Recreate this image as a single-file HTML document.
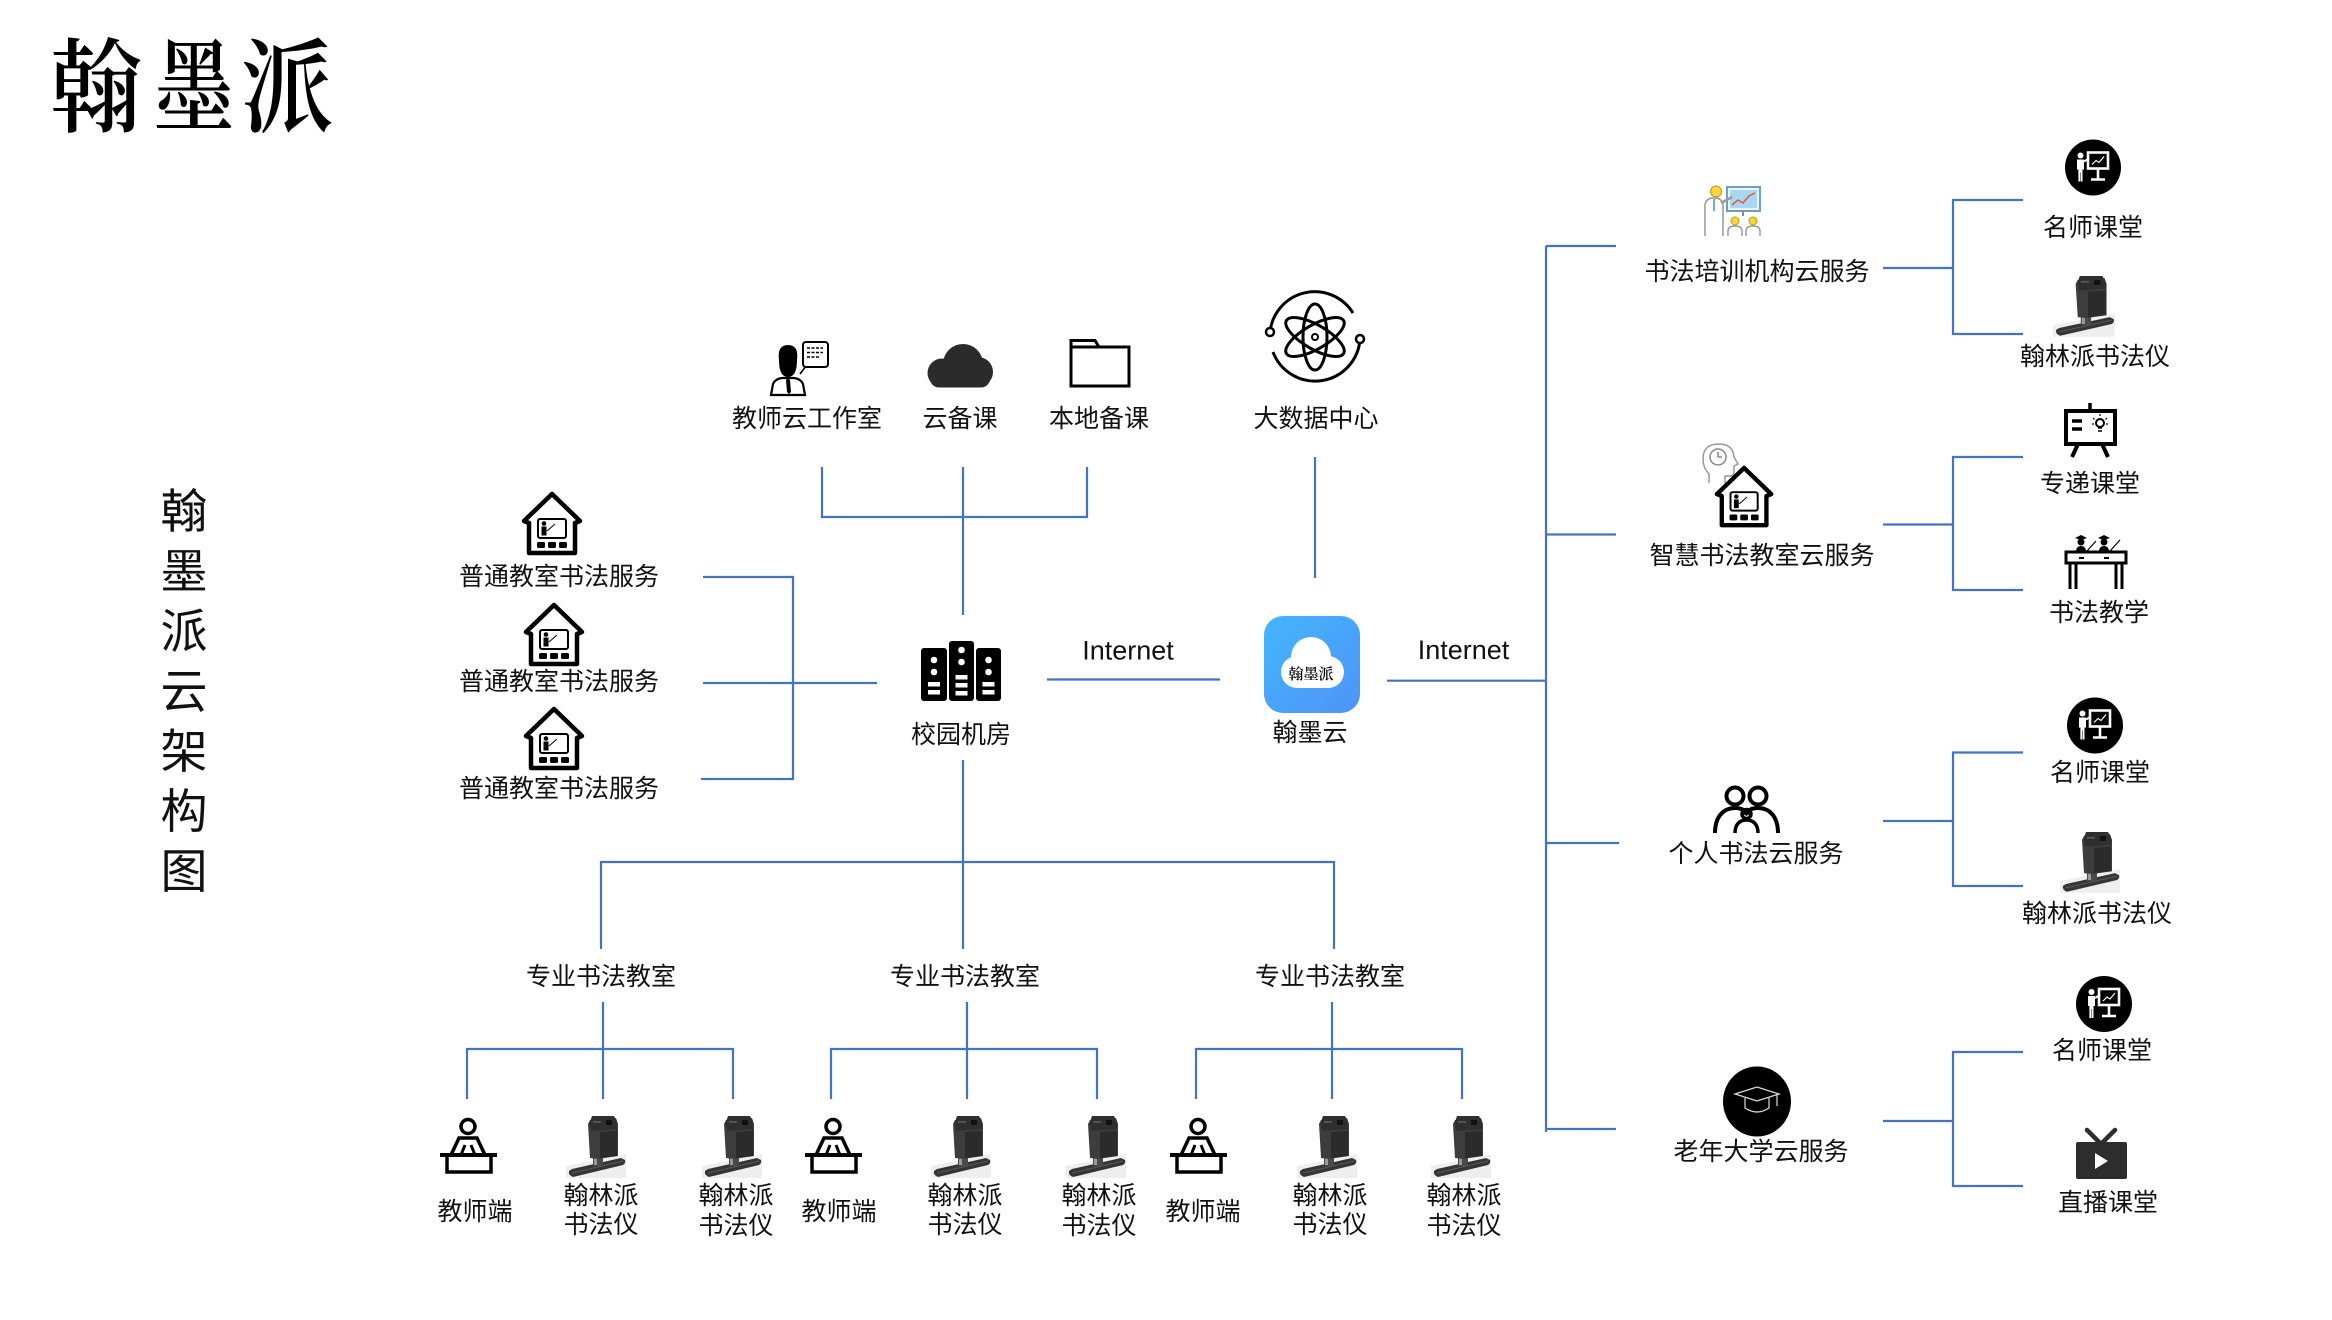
<!DOCTYPE html>
<html><head><meta charset="utf-8">
<style>
html,body{margin:0;padding:0;background:#fff;}
svg{display:block;}
text{font-family:"Liberation Sans","Noto Sans CJK SC",sans-serif;fill:#111;}
.lbl{font-size:25px;text-anchor:middle;}
.ln{fill:none;stroke:#4472C4;stroke-width:2.2;}
.cal{font-family:"Noto Serif CJK SC","Noto Sans CJK SC",serif;font-size:100px;font-weight:600;fill:#000;}
</style></head><body>
<svg width="2332" height="1320" viewBox="0 0 2332 1320" xmlns="http://www.w3.org/2000/svg">
<defs>
  <linearGradient id="appg" x1="0" y1="0" x2="1" y2="1">
    <stop offset="0" stop-color="#43b6fc"/>
    <stop offset="1" stop-color="#4f93f7"/>
  </linearGradient>
  <g id="house">
    <path d="M7,61 L7,31 L2,29 L30,2 L58,29 L53,31 L53,61 Z" fill="#fff" stroke="#000" stroke-width="4.5" stroke-linejoin="round"/>
    <rect x="16" y="27" width="28" height="19" rx="2" fill="none" stroke="#000" stroke-width="2"/>
    <circle cx="22" cy="31.5" r="2.3" fill="#000"/>
    <path d="M19.5,34.5 h5 v9 h-5z" fill="#000"/>
    <path d="M25,39 L33,32" stroke="#000" stroke-width="1"/>
    <rect x="15" y="50" width="8" height="6" rx="1.5" fill="#000"/>
    <rect x="26" y="50" width="8" height="6" rx="1.5" fill="#000"/>
    <rect x="37" y="50" width="8" height="6" rx="1.5" fill="#000"/>
  </g>
  <g id="tdesk" fill="none" stroke="#000" stroke-width="3.5">
    <circle cx="28" cy="8.5" r="7"/>
    <path d="M11,37 L19,20 H37 L45,37"/>
    <path d="M21,37 L25,27 M35,37 L31,27" stroke-width="3"/>
    <path d="M0,37 H57" stroke-width="4"/>
    <rect x="7" y="37" width="44" height="17"/>
  </g>
  <g id="device">
    <path d="M0,50 L60,38 L60,62 L0,62 Z" fill="#eeeeee"/>
    <path d="M3,55 Q2,59 7,61 L57,49 Q60,47 59,44 L55,42 L6,53 Z" fill="#353535"/>
    <path d="M6,57 L57,45" stroke="#5a5a5a" stroke-width="1"/>
    <rect x="27" y="40" width="10" height="10" fill="#4a4a4a"/>
    <rect x="28" y="41" width="3" height="8" fill="#9a9a9a"/>
    <path d="M22,8 L24,4 L50,2 L52,8 L52,40 L32,43 L24,42 Z" fill="#3d3d3d"/>
    <path d="M34,16 L51,15 L51,40 L34,42 Z" fill="#2b2b2b"/>
    <path d="M24,6 L26,0 L48,0 L51,6 L51,13 L25,15 Z" fill="#2f2f2f"/>
    <rect x="40" y="4" width="6" height="5" fill="#111"/>
    <path d="M27,6 h8" stroke="#777" stroke-width="1"/>
  </g>
  <g id="mingshi">
    <circle r="28" fill="#000"/>
    <circle cx="-12.5" cy="-12" r="3" fill="#fff"/>
    <path d="M-16,-8 h7 v10 h-1.5 v12 h-1.8 v-9 h-0.5 v9 h-1.8 v-12 h-1.4z" fill="#fff"/>
    <path d="M-9,-6 L-4,-9" stroke="#fff" stroke-width="2"/>
    <rect x="-5" y="-15" width="20" height="16" fill="none" stroke="#fff" stroke-width="2.6"/>
    <polyline points="-1,-3 3,-7 6,-5 11,-11" fill="none" stroke="#fff" stroke-width="1.2"/>
    <path d="M5,1 V11 M-2,12 H12" stroke="#fff" stroke-width="2.6"/>
  </g>
</defs>

<!-- calligraphy title -->
<g text-anchor="middle">
  <text class="cal" x="0" y="0" transform="translate(96,124) scale(0.92,1.02)">翰</text>
  <text class="cal" x="0" y="0" transform="translate(194,124) scale(0.8,1.02)">墨</text>
  <text class="cal" x="0" y="0" transform="translate(287,124) scale(0.92,1.02)">派</text>
</g>

<!-- vertical title -->
<g text-anchor="middle">
  <text x="184" y="528" style="font-size:47px">翰</text>
  <text x="184" y="588" style="font-size:47px">墨</text>
  <text x="184" y="648" style="font-size:47px">派</text>
  <text x="184" y="708" style="font-size:47px">云</text>
  <text x="184" y="768" style="font-size:47px">架</text>
  <text x="184" y="828" style="font-size:47px">构</text>
  <text x="184" y="888" style="font-size:47px">图</text>
</g>

<!-- ===== connector lines ===== -->
<path class="ln" d="M822,467 V517 H1087 V467"/>
<path class="ln" d="M963,467 V615"/>
<path class="ln" d="M1315,457 V578"/>
<path class="ln" d="M703,577 H793 V779 H701"/>
<path class="ln" d="M703,683 H877"/>
<path class="ln" d="M1047,679.5 H1220"/>
<path class="ln" d="M1387,680.7 H1546"/>
<path class="ln" d="M963,760 V949"/>
<path class="ln" d="M601,949 V862 H1334 V949"/>
<path class="ln" d="M603,1002 V1099"/>
<path class="ln" d="M467,1099 V1049 H733 V1099"/>
<path class="ln" d="M967,1002 V1099"/>
<path class="ln" d="M831,1099 V1049 H1097 V1099"/>
<path class="ln" d="M1332,1002 V1099"/>
<path class="ln" d="M1196,1099 V1049 H1462 V1099"/>
<!-- right tree -->
<path class="ln" d="M1546,246 V1132"/>
<path class="ln" d="M1546,246 H1616"/>
<path class="ln" d="M1546,534.5 H1616"/>
<path class="ln" d="M1546,843 H1619"/>
<path class="ln" d="M1546,1129 H1616"/>
<path class="ln" d="M1883,268 H1953"/>
<path class="ln" d="M1883,524.5 H1953"/>
<path class="ln" d="M1883,821 H1953"/>
<path class="ln" d="M1883,1121 H1953"/>
<path class="ln" d="M2023,200 H1953 V334 H2023"/>
<path class="ln" d="M2023,457 H1953 V590 H2023"/>
<path class="ln" d="M2023,752.5 H1953 V886 H2023"/>
<path class="ln" d="M2023,1052 H1953 V1186 H2023"/>

<!-- ===== top icons ===== -->
<g>
  <rect x="803" y="342" width="25" height="25" rx="3" fill="#fff" stroke="#000" stroke-width="2"/>
  <path d="M807,348 h16 M807,352.5 h16 M807,357 h12" stroke="#000" stroke-width="1.6" stroke-dasharray="3 1.5"/>
  <path d="M806,366 L800,374" stroke="#000" stroke-width="1.6"/>
  <path d="M779,360 Q777,345 788,345 Q799,345 797,360 Q797,377 788,377 Q779,377 779,360Z" fill="#000"/>
  <path d="M771,395 L773,384 Q775,379 782,378 L794,378 Q801,379 803,384 L805,395 Z" fill="none" stroke="#000" stroke-width="2.2"/>
  <path d="M788,378 L786,380 L787,392 L789,394 L791,392 L790,380 Z" fill="#000"/>
</g>
<g fill="#2b2b2b">
  <circle cx="963" cy="364" r="20"/>
  <circle cx="942" cy="373" r="14.5"/>
  <circle cx="978" cy="372" r="15"/>
  <rect x="930" y="368" width="60" height="19.5" rx="9"/>
</g>
<g fill="none" stroke="#000" stroke-width="3">
  <path d="M1071,386 V340.5 H1095 L1099,347 H1129 V386 Z"/>
  <path d="M1071,347 H1099"/>
</g>
<g fill="none" stroke="#000" stroke-width="3">
  <ellipse cx="1315" cy="337" rx="33" ry="12" transform="rotate(90 1315 337)"/>
  <ellipse cx="1315" cy="337" rx="33" ry="12" transform="rotate(30 1315 337)"/>
  <ellipse cx="1315" cy="337" rx="33" ry="12" transform="rotate(-30 1315 337)"/>
  <circle cx="1315" cy="337" r="3" stroke-width="2"/>
  <path d="M1270,332 A45,45 0 0 1 1353,313"/>
  <path d="M1360,339 A45,45 0 0 1 1273,352"/>
  <circle cx="1270" cy="332" r="4" fill="#fff" stroke-width="2.5"/>
  <circle cx="1360" cy="339" r="4" fill="#fff" stroke-width="2.5"/>
</g>
<text class="lbl" x="807" y="427">教师云工作室</text>
<text class="lbl" x="960" y="427">云备课</text>
<text class="lbl" x="1099" y="427">本地备课</text>
<text class="lbl" x="1316" y="427">大数据中心</text>

<!-- server -->
<g>
  <rect x="921" y="648" width="26" height="53" rx="3" fill="#000"/>
  <rect x="949" y="641" width="25" height="60" rx="3" fill="#000"/>
  <rect x="976" y="648" width="25" height="53" rx="3" fill="#000"/>
  <g fill="#fff">
    <circle cx="934" cy="660" r="3.3"/><circle cx="934" cy="672" r="3.3"/>
    <rect x="928" y="682" width="12" height="4.5"/><rect x="928" y="690" width="12" height="4.5"/>
    <circle cx="961.5" cy="650" r="3.3"/><circle cx="961.5" cy="662" r="3.3"/>
    <rect x="955.5" y="675" width="12" height="4.5"/><rect x="955.5" y="683" width="12" height="4.5"/><rect x="955.5" y="691" width="12" height="4.5"/>
    <circle cx="988.5" cy="660" r="3.3"/><circle cx="988.5" cy="672" r="3.3"/>
    <rect x="982.5" y="682" width="12" height="4.5"/><rect x="982.5" y="690" width="12" height="4.5"/>
  </g>
</g>
<text class="lbl" x="961" y="743">校园机房</text>

<!-- app icon -->
<g>
  <rect x="1264" y="616" width="96" height="97" rx="19" fill="url(#appg)"/>
  <g fill="#fff">
    <circle cx="1311" cy="657" r="20"/>
    <circle cx="1297" cy="672" r="16"/>
    <circle cx="1328" cy="672" r="16"/>
    <rect x="1297" y="660" width="31" height="28"/>
  </g>
  <text x="1311" y="679" text-anchor="middle" style="font-family:'Noto Serif CJK SC',serif;font-size:15px;font-weight:600;fill:#000">翰墨派</text>
</g>
<text class="lbl" x="1310" y="741">翰墨云</text>
<text x="1128" y="659.5" text-anchor="middle" style="font-size:27px">Internet</text>
<text x="1463.5" y="659" text-anchor="middle" style="font-size:27px">Internet</text>

<!-- left houses -->
<use href="#house" x="522" y="492"/>
<use href="#house" x="524" y="603"/>
<use href="#house" x="524" y="707"/>
<text class="lbl" x="559" y="585">普通教室书法服务</text>
<text class="lbl" x="559" y="690">普通教室书法服务</text>
<text class="lbl" x="559" y="797">普通教室书法服务</text>

<!-- bottom -->
<text class="lbl" x="601" y="985">专业书法教室</text>
<text class="lbl" x="965" y="985">专业书法教室</text>
<text class="lbl" x="1330" y="985">专业书法教室</text>

<use href="#tdesk" x="440" y="1118"/>
<use href="#tdesk" x="805" y="1118"/>
<use href="#tdesk" x="1170" y="1118"/>
<use href="#device" x="566" y="1116"/>
<use href="#device" x="702" y="1116"/>
<use href="#device" x="931" y="1116"/>
<use href="#device" x="1066" y="1116"/>
<use href="#device" x="1297" y="1116"/>
<use href="#device" x="1431" y="1116"/>

<text class="lbl" x="475" y="1220">教师端</text>
<text class="lbl" x="839" y="1220">教师端</text>
<text class="lbl" x="1203" y="1220">教师端</text>
<text class="lbl" x="601" y="1204">翰林派</text><text class="lbl" x="601" y="1233">书法仪</text>
<text class="lbl" x="736" y="1204">翰林派</text><text class="lbl" x="736" y="1234">书法仪</text>
<text class="lbl" x="965" y="1204">翰林派</text><text class="lbl" x="965" y="1233">书法仪</text>
<text class="lbl" x="1099" y="1204">翰林派</text><text class="lbl" x="1099" y="1234">书法仪</text>
<text class="lbl" x="1330" y="1204">翰林派</text><text class="lbl" x="1330" y="1233">书法仪</text>
<text class="lbl" x="1464" y="1204">翰林派</text><text class="lbl" x="1464" y="1234">书法仪</text>

<!-- ===== right side ===== -->
<g transform="translate(1703,185)">
  <rect x="24" y="2" width="33" height="24" fill="#eaf5fb" stroke="#6f9fc4" stroke-width="2"/>
  <rect x="27" y="5" width="27" height="18" fill="#a8d7f0"/>
  <polyline points="29,20 35,15 40,18 46,11 52,8" fill="none" stroke="#e05a3a" stroke-width="1.5"/>
  <line x1="40" y1="26" x2="40" y2="31" stroke="#888" stroke-width="2"/>
  <circle cx="13" cy="6.5" r="5.5" fill="#f7d53c" stroke="#b89a20" stroke-width="1"/>
  <path d="M2,51 V21 Q2,13 11,13 Q20,13 20,21 V51" fill="#fff" stroke="#999" stroke-width="1.5"/>
  <path d="M18,18 L29,12" stroke="#999" stroke-width="2.5"/>
  <line x1="11" y1="14" x2="11" y2="26" stroke="#4b8fc0" stroke-width="1.5"/>
  <circle cx="32" cy="36" r="4" fill="#f7d53c" stroke="#b89a20"/>
  <circle cx="50" cy="36" r="4" fill="#f7d53c" stroke="#b89a20"/>
  <path d="M25,51 V46 Q25,41 32,41 Q39,41 39,46 V51" fill="#fff" stroke="#999" stroke-width="1.5"/>
  <path d="M43,51 V46 Q43,41 50,41 Q57,41 57,46 V51" fill="#fff" stroke="#999" stroke-width="1.5"/>
</g>
<text class="lbl" x="1757" y="280">书法培训机构云服务</text>

<g transform="translate(1703,443)">
  <path d="M6,40 V31 Q0,25 0,16 Q0,1 16,1 Q30,1 31,14 L35,21 L31,23 V29 Q31,33 27,33 H22 V40" fill="#fff" stroke="#999" stroke-width="1.5"/>
  <circle cx="15" cy="14" r="8" fill="#fff" stroke="#888" stroke-width="1.5"/>
  <path d="M15,9 V14 H19" fill="none" stroke="#777" stroke-width="1.3"/>
</g>
<use href="#house" transform="translate(1715,466) scale(0.97)"/>
<text class="lbl" x="1762" y="564">智慧书法教室云服务</text>

<g fill="none" stroke="#000" stroke-width="4">
  <circle cx="1735" cy="796" r="8.5"/>
  <circle cx="1758" cy="796" r="8.5"/>
  <path d="M1715,833 C1715,816 1724,808 1735,808 C1742,808 1746,811 1748,815"/>
  <path d="M1778,833 C1778,816 1769,808 1758,808 C1751,808 1747,811 1745,815"/>
  <circle cx="1746.5" cy="814" r="4.5" stroke-width="3.5"/>
  <path d="M1735,833 C1735,824 1740,820 1746.5,820 C1753,820 1758,824 1758,833" stroke-width="3.5"/>
</g>
<text class="lbl" x="1756" y="862">个人书法云服务</text>

<g>
  <ellipse cx="1757" cy="1101.5" rx="34" ry="35" fill="#000"/>
  <g fill="none" stroke="#ddd" stroke-width="1.2">
    <path d="M1735,1094 L1757,1087 L1779,1094 L1757,1101 Z"/>
    <path d="M1745,1098 V1108 Q1757,1116 1769,1108 V1098"/>
    <path d="M1777,1095 V1106"/>
  </g>
</g>
<text class="lbl" x="1761" y="1160">老年大学云服务</text>

<use href="#mingshi" x="2093" y="167.5"/>
<text class="lbl" x="2093" y="236">名师课堂</text>
<use href="#device" transform="translate(2053,276) scale(1.03 0.98)"/>
<text class="lbl" x="2095" y="365">翰林派书法仪</text>

<g fill="none" stroke="#000">
  <path d="M2090,403 V411" stroke-width="3.5"/>
  <rect x="2066" y="411" width="49" height="33" stroke-width="4"/>
  <path d="M2072,421 h10 M2072,429 h10" stroke-width="3.5"/>
  <circle cx="2100" cy="423" r="4" stroke-width="2"/>
  <path d="M2098,428 h4 M2098,431 h4" stroke-width="1.5"/>
  <path d="M2100,414 v2 M2093,418 l1.5,1.5 M2107,418 l-1.5,1.5 M2092,424 h2 M2106,424 h2" stroke-width="1.2"/>
  <path d="M2078,444 L2072,457 M2102,444 L2108,457" stroke-width="4"/>
</g>
<text class="lbl" x="2090" y="492">专递课堂</text>

<g>
  <circle cx="2081" cy="542" r="3.5" fill="#000"/>
  <path d="M2075,538 L2081,535 L2087,538 L2081,540 Z" fill="#000"/>
  <path d="M2076,552 Q2076,546 2081,546 Q2086,546 2086,552 Z" fill="#000"/>
  <circle cx="2104" cy="542" r="3.5" fill="#000"/>
  <path d="M2098,538 L2104,535 L2110,538 L2104,540 Z" fill="#000"/>
  <path d="M2099,552 Q2099,546 2104,546 Q2109,546 2109,552 Z" fill="#000"/>
  <path d="M2087,551 L2096,541 M2110,551 L2120,540" stroke="#000" stroke-width="1.2"/>
  <rect x="2066" y="552" width="60" height="11" fill="#fff" stroke="#000" stroke-width="3"/>
  <path d="M2079,558 h5 M2104,558 h5" stroke="#000" stroke-width="2"/>
  <path d="M2070,563 V589 M2076,563 V589 M2116,563 V589 M2122,563 V589" stroke="#000" stroke-width="3"/>
</g>
<text class="lbl" x="2099" y="621">书法教学</text>

<use href="#mingshi" x="2095" y="725.5"/>
<text class="lbl" x="2100" y="781">名师课堂</text>
<use href="#device" transform="translate(2060,832) scale(1.0 0.98)"/>
<text class="lbl" x="2097" y="922">翰林派书法仪</text>

<use href="#mingshi" x="2104" y="1004"/>
<text class="lbl" x="2102" y="1059">名师课堂</text>
<g>
  <path d="M2087,1130 L2101,1144 L2115,1130" fill="none" stroke="#2d2d2d" stroke-width="4.5" stroke-linecap="round"/>
  <rect x="2076" y="1142" width="51" height="37" rx="2" fill="#2d2d2d"/>
  <path d="M2095,1153 L2095,1169 L2108,1161 Z" fill="#fff"/>
</g>
<text class="lbl" x="2108" y="1211">直播课堂</text>
</svg>
</body></html>
